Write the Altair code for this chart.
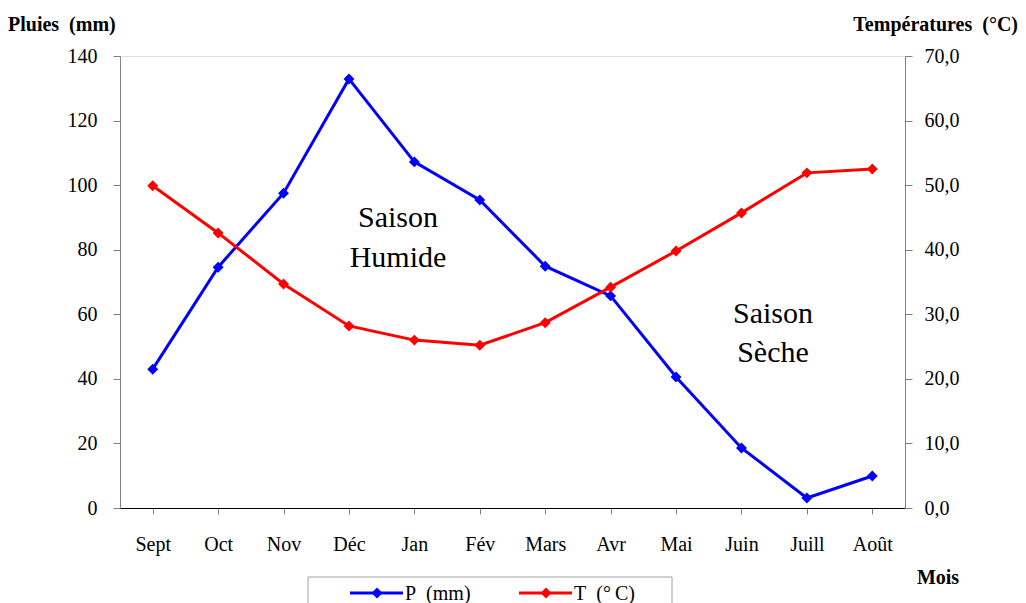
import altair as alt
import pandas as pd

mois = ["Sept", "Oct", "Nov", "Déc", "Jan", "Fév", "Mars", "Avr", "Mai", "Juin", "Juill", "Août"]
pluies = [43.0, 74.6, 97.5, 132.9, 107.2, 95.4, 74.9, 65.7, 40.6, 18.6, 3.1, 9.9]
temperatures = [49.9, 42.6, 34.7, 28.2, 26.0, 25.2, 28.7, 34.2, 39.8, 45.7, 51.9, 52.5]

df = pd.DataFrame({"Mois": mois, "P": pluies, "T": temperatures})

FONT = "Liberation Serif, Times New Roman, serif"
W, H = 785, 452

x_enc = alt.X(
    "Mois:N", sort=mois, title=None,
    scale=alt.Scale(paddingInner=0, paddingOuter=0),
    axis=alt.Axis(labelAngle=0, bandPosition=0, tickSize=6, labelPadding=20,
                  domainColor="black", tickColor="#808080", labelFontSize=20,
                  labelFont=FONT, labelColor="black", grid=False),
)

base = alt.Chart(df)

p_line = base.mark_line(color="#0000FF", strokeWidth=3).encode(
    x=x_enc,
    y=alt.Y("P:Q", title=None,
            scale=alt.Scale(domain=[0, 140], nice=False),
            axis=alt.Axis(values=list(range(0, 141, 20)), orient="left", grid=False,
                          tickSize=7, labelPadding=16, labelFontSize=20, labelFont=FONT,
                          labelColor="black", domainColor="#808080", tickColor="#808080")),
)
p_pts = base.mark_point(shape="diamond", filled=True, color="#0000FF", size=120, opacity=1).encode(
    x=alt.X("Mois:N", sort=mois), y=alt.Y("P:Q"))

t_line = base.mark_line(color="#FF0000", strokeWidth=3).encode(
    x=alt.X("Mois:N", sort=mois),
    y=alt.Y("T:Q", title=None,
            scale=alt.Scale(domain=[0, 70], nice=False),
            axis=alt.Axis(values=list(range(0, 71, 10)), orient="right", grid=False,
                          tickSize=7, labelPadding=12, labelFontSize=20, labelFont=FONT,
                          labelColor="black", domainColor="#808080", tickColor="#808080",
                          labelExpr="replace(format(datum.value, '.1f'), '.', ',')")),
)
t_pts = base.mark_point(shape="diamond", filled=True, color="#FF0000", size=120, opacity=1).encode(
    x=alt.X("Mois:N", sort=mois), y=alt.Y("T:Q"))

p_layer = alt.layer(p_line, p_pts)
t_layer = alt.layer(t_line, t_pts)

ann = alt.Chart(pd.DataFrame({"a": [0]}))

def txt(s, x, y, size, bold=False, align="center"):
    return ann.mark_text(text=s, font=FONT, fontSize=size, fontWeight="bold" if bold else 400,
                         align=align, baseline="middle", color="black").encode(
        x=alt.value(x), y=alt.value(y))

annotations = [
    txt("Saison", 278, 162, 30),
    txt("Humide", 278, 202, 30),
    txt("Saison", 653, 258, 30),
    txt("Sèche", 653, 297, 30),
    txt("Pluies\u00a0 (mm)", -112, -31, 20, bold=True, align="left"),
    txt("Températures\u00a0 (°C)", 898, -31, 20, bold=True, align="right"),
    txt("Mois", 818, 522, 20, bold=True),
]

legend_box = ann.mark_rect(fill="white", stroke="#A0A0A0", strokeWidth=1).encode(
    x=alt.value(188), x2=alt.value(552), y=alt.value(521), y2=alt.value(580))
leg_p_line = ann.mark_rule(color="#0000FF", strokeWidth=3).encode(
    x=alt.value(230), x2=alt.value(283), y=alt.value(537))
leg_p_pt = ann.mark_point(shape="diamond", filled=True, color="#0000FF", size=120, opacity=1).encode(
    x=alt.value(257), y=alt.value(537))
leg_t_line = ann.mark_rule(color="#FF0000", strokeWidth=3).encode(
    x=alt.value(399), x2=alt.value(452), y=alt.value(537))
leg_t_pt = ann.mark_point(shape="diamond", filled=True, color="#FF0000", size=120, opacity=1).encode(
    x=alt.value(426), y=alt.value(537))
leg_p_txt = txt("P\u00a0 (mm)", 285, 538, 20, align="left")
leg_t_txt = txt("T\u00a0 (°\u2009C)", 454, 538, 20, align="left")

chart = alt.layer(
    p_layer, t_layer, *annotations,
    legend_box, leg_p_line, leg_p_pt, leg_t_line, leg_t_pt, leg_p_txt, leg_t_txt,
).resolve_scale(y="independent").properties(
    width=W, height=H,
    autosize=alt.AutoSizeParams(type="none"),
    padding={"left": 112, "top": 48, "right": 113, "bottom": 95},
).configure_view(stroke="#808080", strokeWidth=1).configure(background="white")

chart.save("out.html", embed_options={"renderer": "svg", "actions": False})
